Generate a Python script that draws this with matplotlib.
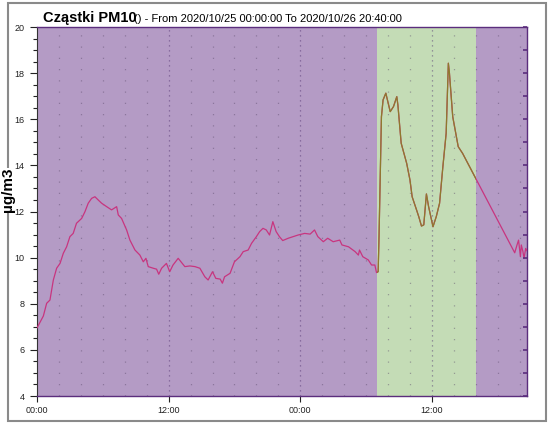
import matplotlib
matplotlib.use("Agg")
import matplotlib.pyplot as plt
from matplotlib.patches import Rectangle
from matplotlib.ticker import MultipleLocator, FixedLocator, FixedFormatter

plt.rcParams["font.family"] = ["Liberation Sans", "DejaVu Sans"]

# ---------------------------------------------------------------------------
# Data: hours since 2020/10/25 00:00, PM10 in ug/m3
# ---------------------------------------------------------------------------
hours = [0, 0.58, 0.88, 1.18, 1.49, 1.79, 2.1, 2.4, 2.7, 3.0,
         3.3, 3.6, 4.07, 4.37, 4.67, 4.98, 5.28, 5.58, 5.89, 6.35,
         6.8, 7.26, 7.41, 7.71, 8.17, 8.47, 8.93, 9.38, 9.69, 9.93,
         10.14, 10.6, 10.9, 11.1, 11.36, 11.8, 12.1, 12.4, 12.87, 13.48,
         13.94, 14.4, 14.85, 15.3, 15.6, 16.0, 16.3, 16.7, 16.9, 17.1,
         17.6, 18.0, 18.5, 18.8, 19.25, 19.56, 20.0, 20.3, 20.6, 20.9,
         21.2, 21.5, 21.8, 22.1, 22.4, 22.9, 23.35, 23.8, 24.4, 24.9,
         25.3, 25.6, 26.1, 26.5, 27.0, 27.6, 27.8, 28.4, 29.0, 29.3,
         29.4, 29.7, 30.2, 30.5, 30.8, 30.95, 31.1, 31.18, 31.4, 31.55,
         31.8, 32.2, 32.5, 32.8, 32.9, 33.2, 33.7, 34.0, 34.2, 34.6,
         34.8, 35.05, 35.26, 35.5, 35.7, 36.1, 36.4, 36.7, 37.0, 37.3,
         37.5, 37.6, 37.9, 38.4, 38.8, 43.55, 43.76, 43.9, 44.07, 44.15,
         44.3, 44.4, 44.55, 44.67]
pm10 = [6.95, 7.47, 8.02, 8.16, 9.03, 9.54, 9.75, 10.19, 10.47, 10.91,
        11.05, 11.49, 11.7, 11.99, 12.36, 12.57, 12.64, 12.5, 12.36, 12.21,
        12.07, 12.21, 11.85, 11.7, 11.2, 10.76, 10.33, 10.11, 9.82, 9.97,
        9.61, 9.54, 9.5, 9.28, 9.54, 9.75, 9.39, 9.68, 9.97, 9.61,
        9.64, 9.61, 9.54, 9.17, 9.03, 9.39, 9.1, 9.07, 8.89, 9.17,
        9.32, 9.82, 10.04, 10.26, 10.33, 10.62, 10.91, 11.13, 11.27, 11.2,
        10.98, 11.56, 11.13, 10.91, 10.74, 10.84, 10.91, 10.98, 11.05, 11.02,
        11.2, 10.91, 10.69, 10.84, 10.69, 10.76, 10.55, 10.47, 10.26, 10.11,
        10.33, 10.04, 9.9, 9.68, 9.68, 9.35, 9.39, 10.91, 16.11, 16.84,
        17.13, 16.33, 16.55, 16.98, 16.62, 14.96, 14.09, 13.37, 12.64, 12.07,
        11.78, 11.37, 11.42, 12.76, 12.21, 11.34, 11.78, 12.36, 13.94, 15.39,
        18.43, 17.99, 16.11, 14.81, 14.52, 10.21, 10.55, 10.76, 10.04, 10.55,
        10.26, 9.97, 10.4, 10.3]

x_end = 44.67                 # 2020/10/26 20:40
green_band = (31.0, 40.0)     # highlighted period
xtick_hours = [0, 12, 24, 36]
xtick_labels = ["00:00", "12:00", "00:00", "12:00"]

PURPLE = "#b49bc5"
GREEN = "#c4dcb6"
LINE = "#c8357f"
LINE_GREEN = "#8e7a2c"

# ---------------------------------------------------------------------------
# Figure
# ---------------------------------------------------------------------------
fig = plt.figure(figsize=(5.5, 4.24), dpi=100)
W, H = 550, 424
ax = fig.add_axes([37 / W, 1 - 396 / H, 490 / W, 369 / H])
ax.set_facecolor(PURPLE)

ax.set_xlim(0, x_end)
ax.set_ylim(4, 20)

ax.axvspan(*green_band, color=GREEN, lw=0, zorder=0.5)

# grid: minor every 2h, major every 12h
for h in range(2, 45, 2):
    if h % 12 == 0:
        ax.axvline(h, color="#4a2a6a", alpha=0.55, lw=0.9, ls=(0, (1, 3)), zorder=1)
    else:
        ax.axvline(h, color="#5a4a6a", alpha=0.45, lw=0.9, ls=(0, (1, 8)), zorder=1)

ax.plot(hours, pm10, color=LINE, lw=0.9, zorder=3)
seg, = ax.plot(hours, pm10, color=LINE_GREEN, lw=0.9, zorder=4)
clip = Rectangle((green_band[0], 4), green_band[1] - green_band[0], 16,
                 transform=ax.transData)
seg.set_clip_path(clip)

# axes styling
for side in ["top", "bottom", "right"]:
    ax.spines[side].set_color("#5b2d7d")
    ax.spines[side].set_linewidth(1.0)
ax.spines["left"].set_color("#333333")

ax.yaxis.set_major_locator(MultipleLocator(2))
ax.yaxis.set_minor_locator(MultipleLocator(0.5))
ax.tick_params(axis="y", which="major", length=5, width=0.8, labelsize=6.5,
               color="#222222", labelcolor="#222222", pad=4)
ax.tick_params(axis="y", which="minor", length=3, width=0.8, color="#222222")

ax.xaxis.set_major_locator(FixedLocator(xtick_hours))
ax.xaxis.set_major_formatter(FixedFormatter(xtick_labels))
ax.xaxis.set_minor_locator(MultipleLocator(2))
ax.tick_params(axis="x", which="major", length=4, width=0.8, labelsize=6.5,
               color="#222222", labelcolor="#222222", pad=3)
ax.tick_params(axis="x", which="minor", length=0)

# small inward marks on the right spine
ax2 = ax.twinx()
ax2.set_ylim(4, 20)
ax2.yaxis.set_major_locator(MultipleLocator(1))
ax2.tick_params(axis="y", which="major", direction="in", length=3, width=1.2,
                color="#5b2d7d", labelright=False)
for s in ax2.spines.values():
    s.set_visible(False)

# titles
fig.text(43 / W, 1 - 22 / H, "Cząstki PM10", fontsize=10.5, fontweight="bold",
         ha="left", va="baseline")
fig.text(134 / W, 1 - 22 / H, "() - From 2020/10/25 00:00:00 To 2020/10/26 20:40:00",
         fontsize=8, ha="left", va="baseline")
fig.text(8 / W, 1 - 190 / H, "µg/m3", fontsize=11, fontweight="bold", rotation=90,
         ha="center", va="center",
         bbox=dict(facecolor="white", edgecolor="none", pad=0))

# outer frame
frame = Rectangle((8 / W, 3 / H), 538 / W, 418 / H, transform=fig.transFigure,
                  fill=False, edgecolor="#8a8a8a", lw=1.5, zorder=0)
fig.patches.append(frame)

fig.savefig("out.png", dpi=100)
